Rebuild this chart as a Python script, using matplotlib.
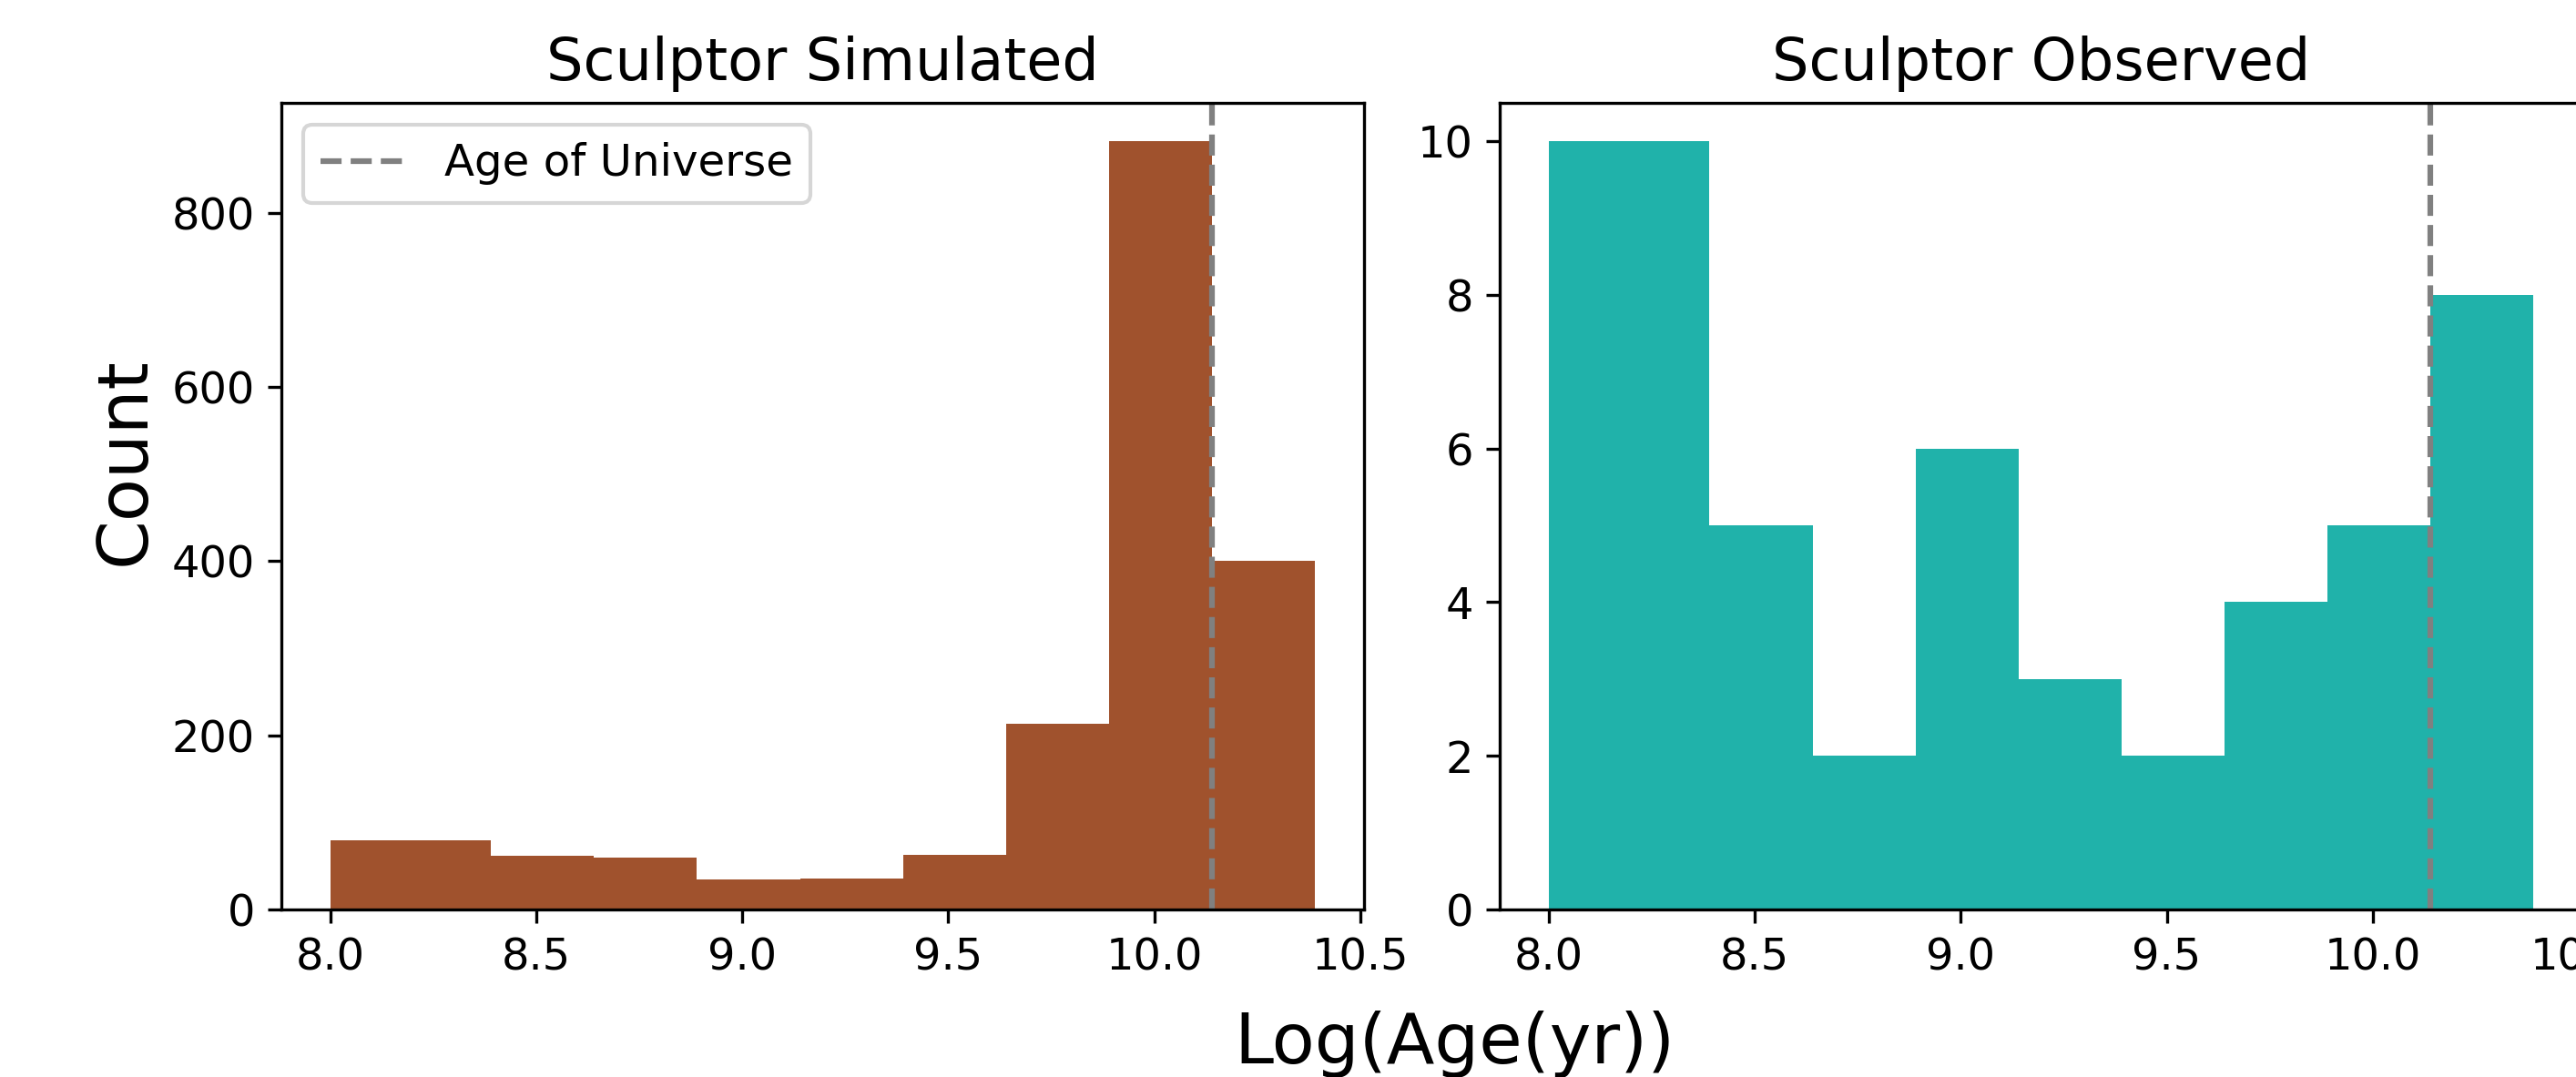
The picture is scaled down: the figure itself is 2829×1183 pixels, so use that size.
import matplotlib

matplotlib.use("Agg")
import matplotlib.pyplot as plt

# bin edges in log10(age/yr): first bin starts at 8.0, then 0.25 dex steps up to the age of the universe
BIN_EDGES = [8.0, 8.39, 8.64, 8.89, 9.14, 9.39, 9.64, 9.89, 10.14, 10.39]
SIM_COUNTS = [79, 62, 60, 35, 36, 63, 213, 882, 400]
OBS_COUNTS = [10, 5, 2, 6, 3, 2, 4, 5, 8]
AGE_UNIVERSE = 10.14

SIM_COLOUR = "sienna"
OBS_COLOUR = "lightseagreen"

fig = plt.figure(figsize=(2829 / 300, 1183 / 300), dpi=300, facecolor="white")
ax_sim = fig.add_axes([0.1092, 0.1555, 0.4203, 0.749])
ax_obs = fig.add_axes([0.5822, 0.1555, 0.4203, 0.749])

ax_sim.hist(BIN_EDGES[:-1], bins=BIN_EDGES, weights=SIM_COUNTS, color=SIM_COLOUR)
ax_sim.axvline(AGE_UNIVERSE, color="grey", linestyle="--", label="Age of Universe")
ax_sim.set_title("Sculptor Simulated", fontsize=15.3)
ax_sim.legend(loc="upper left", fontsize=11.6)

ax_obs.hist(BIN_EDGES[:-1], bins=BIN_EDGES, weights=OBS_COUNTS, color=OBS_COLOUR)
ax_obs.axvline(AGE_UNIVERSE, color="grey", linestyle="--")
ax_obs.set_title("Sculptor Observed", fontsize=15.3)

for ax in (ax_sim, ax_obs):
    ax.tick_params(labelsize=11.5)

fig.text(0.5646, 0.0304, "Log(Age(yr))", ha="center", va="center", fontsize=18.5)
fig.text(0.0486, 0.572, "Count", ha="center", va="center", rotation=90, fontsize=18.5)

fig.savefig("out.png", dpi=300)
plt.close(fig)
